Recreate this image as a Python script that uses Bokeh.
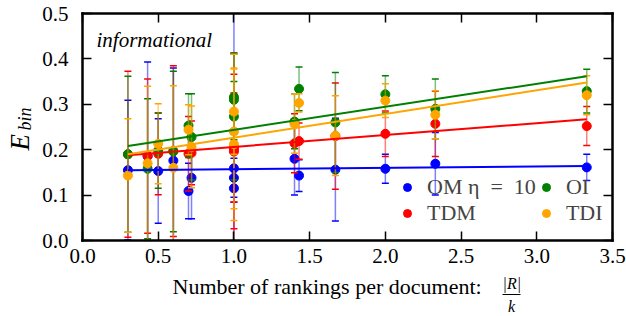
import math
import numpy as np
from bokeh.plotting import figure
from bokeh.models import (Range1d, FixedTicker, LinearAxis, Label, Legend, LegendItem,
                          BoxAnnotation)
from bokeh.embed import file_html
from bokeh.resources import INLINE

# ---------------- data ----------------
x_vals = [0.3, 0.43, 0.5, 0.6, 0.7, 0.72, 1.0, 1.0, 1.0, 1.4, 1.43, 1.67, 2.0, 2.33, 3.33]

om_y   = [0.155, 0.186, 0.153, 0.176, 0.109, 0.138, 0.159, 0.138, 0.115, 0.180, 0.143, 0.156, 0.158, 0.169, 0.161]
om_err = [0.154, 0.207, 0.115, 0.204, 0.061, 0.090, 0.075, 0.043, 0.400, 0.080, 0.035, 0.113, 0.032, 0.069, 0.029]

tdm_y   = [0.190, 0.186, 0.191, 0.197, 0.191, 0.193, 0.200, 0.196, 0.205, 0.214, 0.219, 0.230, 0.235, 0.257, 0.252]
tdm_err = [0.183, 0.170, 0.090, 0.188, 0.082, 0.070, 0.213, 0.170, 0.120, 0.065, 0.040, 0.117, 0.050, 0.072, 0.043]

oi_y   = [0.190, 0.158, 0.198, 0.196, 0.253, 0.228, 0.316, 0.310, 0.273, 0.262, 0.334, 0.260, 0.322, 0.290, 0.329]
oi_err = [0.172, 0.154, 0.083, 0.177, 0.070, 0.095, 0.094, 0.040, 0.140, 0.060, 0.048, 0.110, 0.041, 0.066, 0.048]

tdi_y   = [0.143, 0.170, 0.213, 0.160, 0.244, 0.206, 0.284, 0.240, 0.212, 0.257, 0.303, 0.231, 0.308, 0.277, 0.320]
tdi_err = [0.125, 0.170, 0.088, 0.181, 0.055, 0.090, 0.094, 0.170, 0.168, 0.065, 0.020, 0.088, 0.037, 0.053, 0.043]

# linear fit lines (values read at the ends of the fitted range)
fit_x   = [0.3, 3.33]
om_fit  = [0.155, 0.164]
tdm_fit = [0.188, 0.267]
oi_fit  = [0.208, 0.362]
tdi_fit = [0.190, 0.348]

series_names = ["OM η\u2002=\u200210", "TDM", "OI", "TDI"]
x_ticks = [0.0, 0.5, 1.0, 1.5, 2.0, 2.5, 3.0, 3.5]
y_ticks = [0.0, 0.1, 0.2, 0.3, 0.4, 0.5]
X_MIN, X_MAX = 0.0, 3.5
Y_MIN, Y_MAX = 0.0, 0.5

colors = ["#0000ff", "#ff0000", "#008000", "#ffa500"]
FONT = "Liberation Serif"

# ---------------- layout (canvas pixels) ----------------
W, H = 626, 316
BOX_L, BOX_R = 82, 612      # plot box left/right in canvas px
BOX_T, BOX_B = 13, 240      # plot box top/bottom in canvas px (from top)
px_x = (BOX_R - BOX_L) / (X_MAX - X_MIN)
px_y = (BOX_B - BOX_T) / (Y_MAX - Y_MIN)
x_range = Range1d(X_MIN - BOX_L / px_x, X_MAX + (W - BOX_R) / px_x)
y_range = Range1d(Y_MIN - (H - BOX_B) / px_y, Y_MAX + BOX_T / px_y)

def dx(cx):  # canvas px -> data x
    return X_MIN + (cx - BOX_L) / px_x

def dy(cy):  # canvas px from top -> data y
    return Y_MIN + (BOX_B - cy) / px_y

p = figure(width=W, height=H, output_backend="svg", toolbar_location=None,
           x_range=x_range, y_range=y_range,
           x_axis_location=None, y_axis_location=None, min_border=0)
p.grid.visible = False
p.outline_line_color = None
p.background_fill_color = "white"
p.border_fill_color = "white"

def make_axis(ticks, loc, bounds, show_labels):
    ax = LinearAxis(fixed_location=loc, bounds=bounds)
    ax.ticker = FixedTicker(ticks=ticks)
    ax.major_label_overrides = {t: ("%.1f" % t) for t in ticks}
    ax.axis_line_color = "black"
    ax.axis_line_width = 2.5
    ax.axis_line_cap = "square"
    ax.major_tick_in = 9
    ax.major_tick_out = 0
    ax.major_tick_line_width = 1.5
    ax.major_tick_line_color = "black"
    ax.minor_tick_line_color = None
    ax.major_label_text_font = FONT
    ax.major_label_text_font_size = "21px"
    ax.major_label_text_color = "black"
    if not show_labels:
        ax.major_label_text_alpha = 0
    return ax

ax_b = make_axis(x_ticks, Y_MIN, (X_MIN, X_MAX), True)
ax_b.major_label_standoff = 8
p.add_layout(ax_b, "below")
ax_l = make_axis(y_ticks, X_MIN, (Y_MIN, Y_MAX), True)
ax_l.major_label_standoff = 14
p.add_layout(ax_l, "left")
ax_t = make_axis(x_ticks, Y_MAX, (X_MIN, X_MAX), False)
p.add_layout(ax_t, "above")
ax_r = make_axis(y_ticks, X_MAX, (Y_MIN, Y_MAX), False)
p.add_layout(ax_r, "right")

all_series = [(om_y, om_err, om_fit), (tdm_y, tdm_err, tdm_fit),
              (oi_y, oi_err, oi_fit), (tdi_y, tdi_err, tdi_fit)]

xa = np.array(x_vals)
for (ys, errs, _), c in zip(all_series, colors):
    ya = np.array(ys)
    ea = np.array(errs)
    lo = ya - ea
    hi = ya + ea
    # clip error bars to the plot box, hide caps that fall outside
    p.segment(x0=xa, y0=np.clip(lo, Y_MIN, Y_MAX), x1=xa, y1=np.clip(hi, Y_MIN, Y_MAX),
              line_color=c, line_alpha=0.5, line_width=1.5)
    m_lo = lo >= Y_MIN
    m_hi = hi <= Y_MAX
    p.scatter(x=xa[m_lo], y=lo[m_lo], marker="dash", size=7, line_color=c, line_width=1.5)
    p.scatter(x=xa[m_hi], y=hi[m_hi], marker="dash", size=7, line_color=c, line_width=1.5)
    p.scatter(x=xa, y=ya, marker="circle", size=9, fill_color=c, line_color=c)

for (_, _, fit), c in zip(all_series, colors):
    p.line(x=fit_x, y=fit, line_color=c, line_width=2)

# legend-only renderers (same x, no drawable y) so the legend dots can be smaller
leg_r = []
for c in colors:
    leg_r.append(p.scatter(x=xa, y=np.full(len(xa), np.nan), marker="circle", size=7,
                           fill_color=c, line_color=c))
items = [LegendItem(label=series_names[i], renderers=[leg_r[i]]) for i in range(4)]
legend = Legend(items=items, ncols=2, location=(397, 90),
                glyph_width=20, glyph_height=20, label_standoff=10, spacing=-2,
                padding=0, margin=0, label_height=20, label_width=105,
                label_text_font=FONT, label_text_font_size="22px",
                border_line_alpha=0, background_fill_alpha=0)
p.add_layout(legend)

# ---------------- texts (screen px: from canvas left / bottom; y = text middle) ----------------
def lab(x, y, text, size, style="normal", angle=0.0):
    p.add_layout(Label(x=x, y=y, x_units="screen", y_units="screen", text=text,
                       text_font=FONT, text_font_style=style, text_font_size="%dpx" % size,
                       text_baseline="middle", text_align="left", angle=angle,
                       text_color="black"))

def mid(baseline_px, size):   # canvas y of text middle (from bottom) for a given baseline (from top)
    return H - (baseline_px - 0.34 * size)

lab(96, mid(47, 21), "informational", 21, "italic")
lab(29 - 0.34 * 27, H - 150, "E", 27, "italic", angle=math.pi / 2)
lab(31 - 0.34 * 18, H - 130, "bin", 18, "italic", angle=math.pi / 2)
lab(172, mid(293, 22), "Number of rankings per document:", 22)
lab(502, mid(288, 16), "|R|", 16, "italic")
lab(507.5, mid(311, 16), "k", 16, "italic")
p.add_layout(BoxAnnotation(left=dx(502), right=dx(520), bottom=dy(294.5), top=dy(293.5),
                           fill_color="black", fill_alpha=1, line_color=None))

open("out.html", "w").write(file_html(p, INLINE))
